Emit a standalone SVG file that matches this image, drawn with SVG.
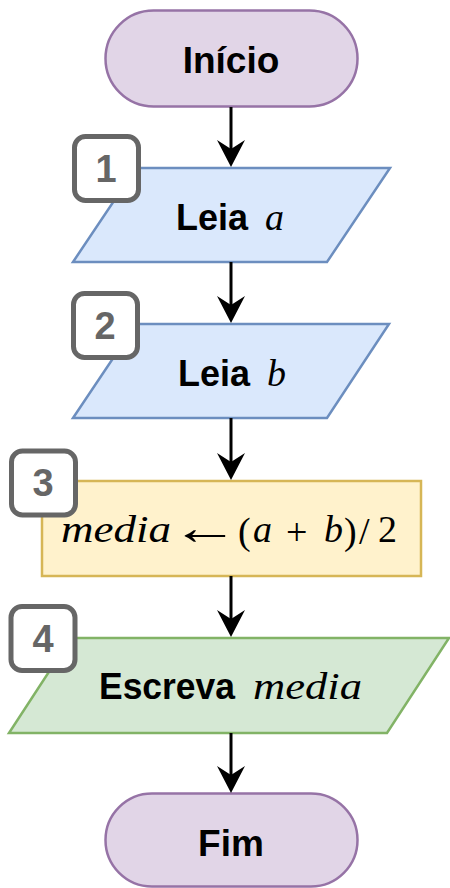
<svg xmlns="http://www.w3.org/2000/svg" width="450" height="888" viewBox="0 0 450 888">
  <defs>
    <style>
      .term { fill: #e1d5e7; stroke: #9673a6; stroke-width: 2.5; }
      .io { fill: #dae8fc; stroke: #6c8ebf; stroke-width: 2.5; }
      .out { fill: #d5e8d4; stroke: #82b366; stroke-width: 2.5; }
      .proc { fill: #fff2cc; stroke: #d6b656; stroke-width: 2.5; }
      .badge rect { fill: #ffffff; stroke: #666666; stroke-width: 5; }
      .badge text { fill: #666666; font-family: "Liberation Sans", Arial, sans-serif; font-weight: bold; font-size: 38px; text-anchor: middle; }
      .lbl { fill: #000000; font-family: "Liberation Sans", Arial, sans-serif; font-weight: bold; font-size: 37px; }
      .mi { fill: #000000; font-family: "Liberation Serif", "Times New Roman", serif; font-style: italic; font-size: 38px; }
      .mr { fill: #000000; font-family: "Liberation Serif", "Times New Roman", serif; font-size: 38px; }
      .edge { fill: none; stroke: #000000; stroke-width: 3; }
    </style>
    <marker id="arrow" markerUnits="userSpaceOnUse" markerWidth="28" markerHeight="28" viewBox="0 0 28 28" refX="9" refY="14" orient="auto">
      <path d="M0,0 L27,14 L0,28 L9,14 Z" fill="#000000"/>
    </marker>
  </defs>

  <!-- start terminal -->
  <g id="inicio">
    <rect class="term" x="105.5" y="10.5" width="252" height="96" rx="48" ry="48"/>
    <text class="lbl" x="231" y="73" text-anchor="middle">Início</text>
  </g>

  <!-- step 1: read a -->
  <g id="leia-a">
    <polygon class="io" points="136,168 390,168 327,262 73,262"/>
    <text class="lbl" x="176" y="230" textLength="72" lengthAdjust="spacingAndGlyphs">Leia</text>
    <text class="mi" x="265" y="230">a</text>
  </g>

  <!-- step 2: read b -->
  <g id="leia-b">
    <polygon class="io" points="136,324 389,324 327,418 73,418"/>
    <text class="lbl" x="178" y="386" textLength="72" lengthAdjust="spacingAndGlyphs">Leia</text>
    <text class="mi" x="267" y="386">b</text>
  </g>

  <!-- step 3: compute average -->
  <g id="calc-media">
    <rect class="proc" x="42" y="481" width="379" height="95"/>
    <text class="mi" x="61" y="542" textLength="110" lengthAdjust="spacingAndGlyphs">media</text>
    <text class="mr" x="205" y="541" text-anchor="middle" transform="translate(205,532) scale(1.8,1.3) translate(-205,-532)">←</text>
    <text class="mr" x="238" y="544" font-size="42">(</text>
    <text class="mi" x="253" y="542">a</text>
    <text class="mr" x="286" y="545" font-size="48">+</text>
    <text class="mi" x="324" y="542">b</text>
    <text class="mr" x="344" y="544" font-size="42">)</text>
    <text class="mr" x="359" y="544" font-size="42">/</text>
    <text class="mr" x="378" y="542">2</text>
  </g>

  <!-- step 4: write average -->
  <g id="escreva-media">
    <polygon class="out" points="71,638 449,638 387,733 9,733"/>
    <text class="lbl" x="99" y="699" textLength="136" lengthAdjust="spacingAndGlyphs">Escreva</text>
    <text class="mi" x="253" y="699" textLength="109" lengthAdjust="spacingAndGlyphs">media</text>
  </g>

  <!-- end terminal -->
  <g id="fim">
    <rect class="term" x="105.5" y="793.5" width="252" height="93" rx="46.5" ry="46.5"/>
    <text class="lbl" x="231" y="856" text-anchor="middle">Fim</text>
  </g>

  <!-- step number badges -->
  <g id="badge-1" class="badge">
    <rect x="74.5" y="136.5" width="64" height="64" rx="11" ry="11"/>
    <text x="106" y="182">1</text>
  </g>
  <g id="badge-2" class="badge">
    <rect x="73.5" y="293.5" width="64" height="64" rx="11" ry="11"/>
    <text x="105" y="339">2</text>
  </g>
  <g id="badge-3" class="badge">
    <rect x="11.5" y="451" width="64" height="64" rx="11" ry="11"/>
    <text x="43" y="496">3</text>
  </g>
  <g id="badge-4" class="badge">
    <rect x="11" y="606.5" width="64" height="64" rx="11" ry="11"/>
    <text x="43" y="652">4</text>
  </g>

  <!-- connectors -->
  <g id="connectors">
    <line class="edge" x1="231" y1="107" x2="231" y2="149" marker-end="url(#arrow)"/>
    <line class="edge" x1="231" y1="262" x2="231" y2="305" marker-end="url(#arrow)"/>
    <line class="edge" x1="231" y1="418" x2="231" y2="462" marker-end="url(#arrow)"/>
    <line class="edge" x1="231" y1="576" x2="231" y2="619" marker-end="url(#arrow)"/>
    <line class="edge" x1="231" y1="733" x2="231" y2="775" marker-end="url(#arrow)"/>
  </g>
</svg>
